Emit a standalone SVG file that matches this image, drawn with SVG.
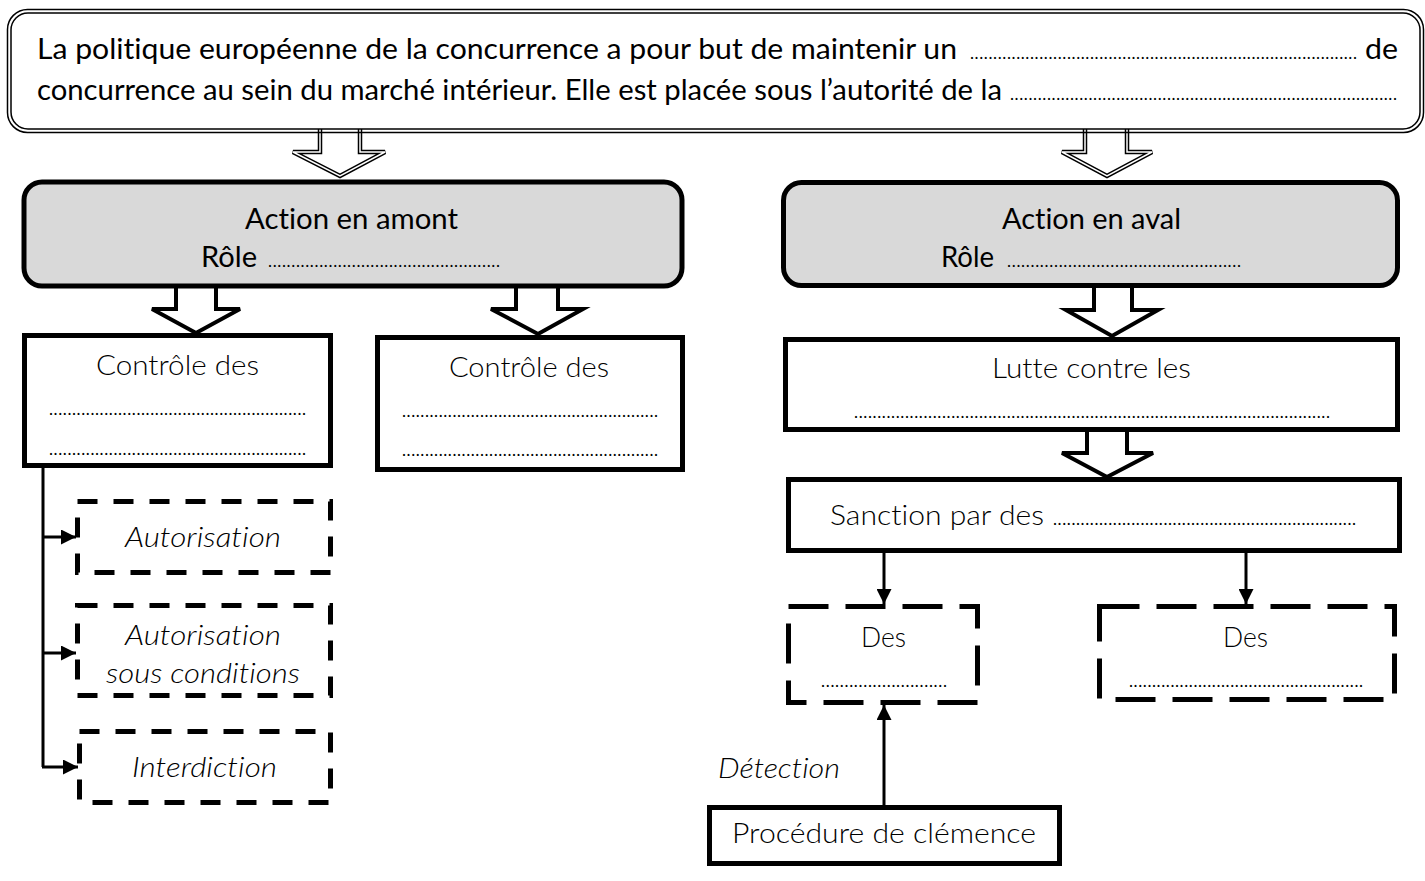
<svg xmlns="http://www.w3.org/2000/svg" width="1425" height="881" viewBox="0 0 1425 881">
<style>
text{font-family:"Lato","Carlito","Liberation Sans",sans-serif;fill:#000;font-variant-ligatures:none;font-feature-settings:"liga" 0}
.t{font-size:28px}
.h{font-size:29px}
.l{font-size:28px;font-weight:300}
.i{font-size:27px;font-weight:300;font-style:italic}
.d{font-size:17px}
.box{fill:#fff;stroke:#000;stroke-width:5}
.act{fill:#d9d9d9;stroke:#000;stroke-width:5}
.dsh{fill:#fff;stroke:#000;stroke-width:5;stroke-dasharray:20 16}
.dsh2{fill:#fff;stroke:#000;stroke-width:5;stroke-dasharray:40 17}
.hol{fill:#fff;stroke:#000;stroke-width:4;stroke-linejoin:miter}
.dbl1{fill:#fff;stroke:#000;stroke-width:4.5}
.dbl2{fill:none;stroke:#fff;stroke-width:1.5}
.ln{fill:none;stroke:#000;stroke-width:3}
</style>
<defs>
<marker id="ah" viewBox="0 0 10 10" refX="10" refY="5" markerWidth="15" markerHeight="15" markerUnits="userSpaceOnUse" orient="auto"><path d="M0,0 L10,5 L0,10 z" fill="#000"/></marker>
</defs>

<g id="connectors">
<path class="dbl1" d="M320,128 V152 H293 L340,176 L385,152 H360 V128"/>
<path class="dbl2" d="M320,128 V152 H293 L340,176 L385,152 H360 V128"/>
<path class="dbl1" d="M1085,128 V152 H1062 L1107,176 L1152,152 H1127 V128"/>
<path class="dbl2" d="M1085,128 V152 H1062 L1107,176 L1152,152 H1127 V128"/>
<path class="hol" d="M176,288 V309 H152 L196,333 L240,309 H216 V288"/>
<path class="hol" d="M516,288 V309 H491 L538,334 L583,309 H558 V288"/>
<path class="hol" d="M1094,288 V310 H1066 L1112,336 L1158,310 H1132 V288"/>
<path class="hol" d="M1087,432 V453 H1062 L1107,477 L1153,453 H1127 V432"/>
<polyline class="ln" points="43,468 43,767"/>
<line class="ln" x1="43" y1="537" x2="76" y2="537" marker-end="url(#ah)"/>
<line class="ln" x1="43" y1="653" x2="76" y2="653" marker-end="url(#ah)"/>
<line class="ln" x1="42" y1="767" x2="78" y2="767" marker-end="url(#ah)"/>
<line class="ln" x1="884" y1="553" x2="884" y2="604" marker-end="url(#ah)"/>
<line class="ln" x1="1246" y1="553" x2="1246" y2="604" marker-end="url(#ah)"/>
<line class="ln" x1="884" y1="806" x2="884" y2="705" marker-end="url(#ah)"/>
</g>

<g id="top">
<rect x="7.5" y="9.5" width="1416" height="123" rx="20" fill="none" stroke="#000" stroke-width="1.5"/>
<rect x="11" y="13" width="1409" height="116" rx="17" fill="#fff" stroke="#000" stroke-width="1.5"/>
<text class="t" x="37" y="59" textLength="920" lengthAdjust="spacingAndGlyphs">La politique européenne de la concurrence a pour but de maintenir un</text>
<text class="d" x="970" y="59" textLength="387">....................................................................................</text>
<text class="t" x="1365" y="59" textLength="33" lengthAdjust="spacingAndGlyphs">de</text>
<text class="t" x="37" y="100" textLength="965" lengthAdjust="spacingAndGlyphs">concurrence au sein du marché intérieur. Elle est placée sous l’autorité de la</text>
<text class="d" x="1010" y="100" textLength="387">....................................................................................</text>
</g>

<g id="amont">
<rect class="act" x="24" y="182" width="658" height="104" rx="18"/>
<text class="h" x="245" y="229" textLength="213" lengthAdjust="spacingAndGlyphs">Action en amont</text>
<text class="h" x="201" y="267" textLength="56" lengthAdjust="spacingAndGlyphs">Rôle</text>
<text class="d" x="268" y="267" textLength="232">..................................................</text>
</g>

<g id="aval">
<rect class="act" x="783.5" y="182.5" width="614" height="103" rx="18"/>
<text class="h" x="1002" y="229" textLength="179" lengthAdjust="spacingAndGlyphs">Action en aval</text>
<text class="h" x="941" y="267" textLength="53" lengthAdjust="spacingAndGlyphs">Rôle</text>
<text class="d" x="1007" y="267" textLength="234">..................................................</text>
</g>

<g id="controle1">
<rect class="box" x="24.5" y="335.5" width="306" height="130"/>
<text class="l" x="96" y="375" textLength="163" lengthAdjust="spacingAndGlyphs">Contrôle des</text>
<text class="d" x="49" y="415" textLength="257">........................................................</text>
<text class="d" x="49" y="455" textLength="257">........................................................</text>
</g>

<g id="controle2">
<rect class="box" x="377.5" y="337.5" width="305" height="132"/>
<text class="l" x="449" y="377" textLength="160" lengthAdjust="spacingAndGlyphs">Contrôle des</text>
<text class="d" x="402" y="417" textLength="256">........................................................</text>
<text class="d" x="402" y="456" textLength="256">........................................................</text>
</g>

<g id="autorisation">
<rect class="dsh" x="77.5" y="501.5" width="253" height="71"/>
<text class="i" x="125" y="547" textLength="156" lengthAdjust="spacingAndGlyphs">Autorisation</text>
</g>

<g id="autorisation-conditions">
<rect class="dsh" x="77.5" y="605.5" width="253" height="90"/>
<text class="i" x="125" y="645" textLength="156" lengthAdjust="spacingAndGlyphs">Autorisation</text>
<text class="i" x="106" y="683" textLength="194" lengthAdjust="spacingAndGlyphs">sous conditions</text>
</g>

<g id="interdiction">
<rect class="dsh" x="79.5" y="731.5" width="251" height="71"/>
<text class="i" x="132" y="777" textLength="145" lengthAdjust="spacingAndGlyphs">Interdiction</text>
</g>

<g id="lutte">
<rect class="box" x="785.5" y="339.5" width="612" height="90"/>
<text class="l" x="992" y="378" textLength="199" lengthAdjust="spacingAndGlyphs">Lutte contre les</text>
<text class="d" x="854" y="418" textLength="476">.......................................................................................................</text>
</g>

<g id="sanction">
<rect class="box" x="788.5" y="479.5" width="611" height="71"/>
<text class="l" x="830" y="525" textLength="214" lengthAdjust="spacingAndGlyphs">Sanction par des</text>
<text class="d" x="1053" y="525" textLength="303">..................................................................</text>
</g>

<g id="des1">
<rect class="dsh2" x="788.5" y="606.5" width="189" height="96"/>
<text class="l" x="861" y="647" textLength="45" lengthAdjust="spacingAndGlyphs">Des</text>
<text class="d" x="821" y="687" textLength="126">...........................</text>
</g>

<g id="des2">
<rect class="dsh2" x="1099.5" y="606.5" width="295" height="93"/>
<text class="l" x="1223" y="647" textLength="45" lengthAdjust="spacingAndGlyphs">Des</text>
<text class="d" x="1129" y="687" textLength="234">...................................................</text>
</g>

<g id="detection">
<text class="i" x="718" y="778" textLength="122" lengthAdjust="spacingAndGlyphs">Détection</text>
</g>

<g id="clemence">
<rect class="box" x="709.5" y="807.5" width="350" height="56"/>
<text class="l" x="732" y="843" textLength="304" lengthAdjust="spacingAndGlyphs">Procédure de clémence</text>
</g>
</svg>
